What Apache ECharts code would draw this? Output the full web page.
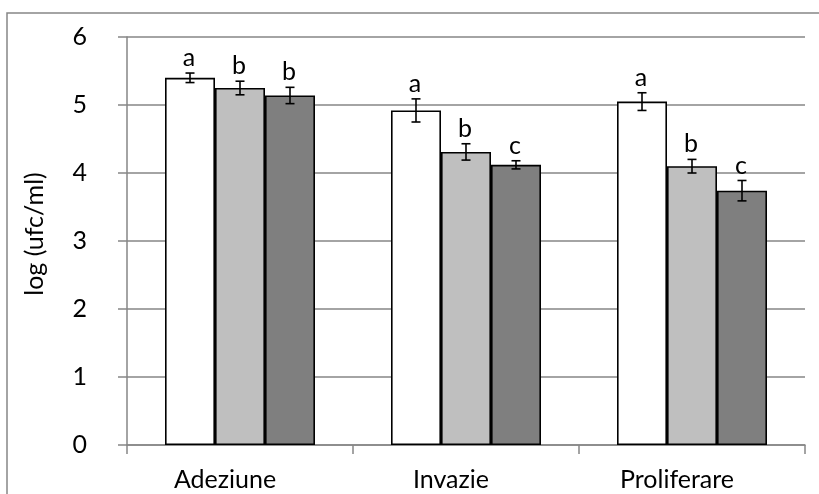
<!DOCTYPE html>
<html>
<head>
<meta charset="utf-8">
<script src="https://cdn.jsdelivr.net/npm/echarts@6/dist/echarts.min.js"></script>
<style>
html,body{margin:0;padding:0;background:#fff;}
#c{width:819px;height:494px;}
</style>
</head>
<body>
<div id="c"></div>
<script>
var categories = ['Adeziune', 'Invazie', 'Proliferare'];
var yTicks = [0, 1, 2, 3, 4, 5, 6];
var valuesA = [5.40, 4.92, 5.05];
var valuesB = [5.25, 4.31, 4.10];
var valuesC = [5.14, 4.12, 3.74];
var errorsA = [0.07, 0.17, 0.13];
var errorsB = [0.10, 0.12, 0.10];
var errorsC = [0.12, 0.06, 0.15];
var lettersA = ['a', 'a', 'a'];
var lettersB = ['b', 'b', 'b'];
var lettersC = ['b', 'c', 'c'];

var FONT = 'Lato';
var FS = 25;
var BAR_W = 50;
var colors = ['#FFFFFF', '#BFBFBF', '#7F7F7F'];
var groups = [
  {v: valuesA, e: errorsA, l: lettersA},
  {v: valuesB, e: errorsB, l: lettersB},
  {v: valuesC, e: errorsC, l: lettersC}
];

var chart = echarts.init(document.getElementById('c'), null, {renderer: 'canvas'});

var series = [];
groups.forEach(function (g, gi) {
  series.push({
    type: 'bar',
    data: g.v,
    barWidth: BAR_W,
    barGap: '0%',
    itemStyle: {color: colors[gi], borderColor: '#000', borderWidth: 1.6},
    silent: true,
    animation: false
  });
});
groups.forEach(function (g, gi) {
  series.push({
    type: 'custom',
    data: g.v.map(function (v, i) { return [i, v, g.e[i]]; }),
    encode: {x: 0, y: 1},
    z: 10,
    silent: true,
    animation: false,
    renderItem: function (params, api) {
      var i = api.value(0), v = api.value(1), e = api.value(2);
      var letter = g.l[i];
      var c = api.coord([i, v]);
      var x = c[0] + (gi - 1) * BAR_W;
      var top = api.coord([i, v + e])[1];
      var bot = api.coord([i, v - e])[1];
      var cap = 4.5;
      var ls = {stroke: '#000', lineWidth: 1.6};
      return {
        type: 'group',
        children: [
          {type: 'line', shape: {x1: x, y1: top, x2: x, y2: bot}, style: ls},
          {type: 'line', shape: {x1: x - cap, y1: top, x2: x + cap, y2: top}, style: ls},
          {type: 'line', shape: {x1: x - cap, y1: bot, x2: x + cap, y2: bot}, style: ls},
          {type: 'text', style: {text: letter, x: x - 1, y: top - 15, align: 'center', verticalAlign: 'middle',
            fontSize: FS, fontFamily: FONT, fill: '#000'}}
        ]
      };
    }
  });
});

chart.setOption({
  animation: false,
  graphic: [{
    type: 'rect', silent: true, z: -1,
    shape: {x: 7, y: 13, width: 1000, height: 800},
    style: {fill: 'none', stroke: '#868686', lineWidth: 1.5}
  }],
  grid: {left: 127, right: 14, top: 37, bottom: 49, containLabel: false},
  xAxis: {
    type: 'category',
    data: categories,
    boundaryGap: true,
    axisLine: {lineStyle: {color: '#868686', width: 1.5}},
    axisTick: {show: true, length: 9, lineStyle: {color: '#868686', width: 1.5}},
    axisLabel: {color: '#000', fontFamily: FONT, fontSize: FS, margin: 22, padding: [0, 30, 0, 0]}
  },
  yAxis: {
    type: 'value',
    min: 0, max: 6, interval: 1,
    name: 'log (ufc/ml)',
    nameLocation: 'middle',
    nameRotate: 90,
    nameGap: 80,
    nameTextStyle: {color: '#000', fontFamily: FONT, fontSize: FS, padding: [0, 0, 0, 14]},
    axisLine: {show: true, lineStyle: {color: '#868686', width: 1.5}},
    axisTick: {show: true, length: 9, lineStyle: {color: '#868686', width: 1.5}},
    splitLine: {show: true, lineStyle: {color: '#868686', width: 1.5}},
    axisLabel: {color: '#000', fontFamily: FONT, fontSize: FS, margin: 40,
      formatter: function (v) { return yTicks.indexOf(v) >= 0 ? String(v) : ''; }}
  },
  series: series
});
</script>
</body>
</html>
